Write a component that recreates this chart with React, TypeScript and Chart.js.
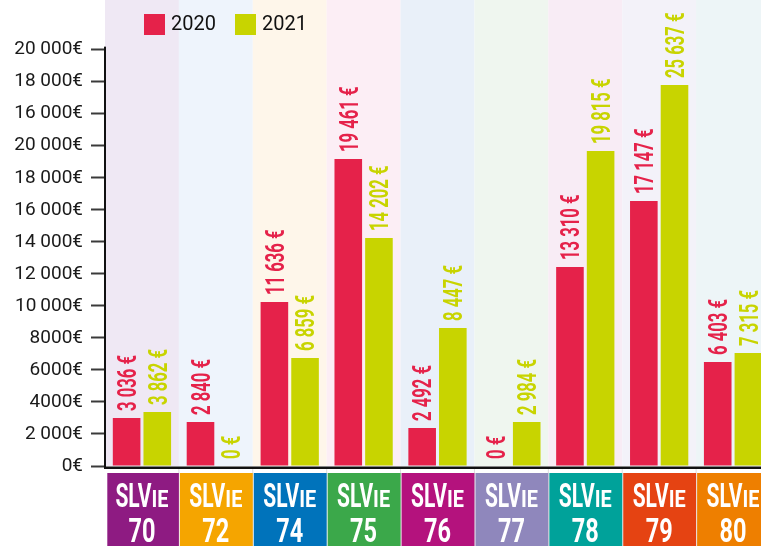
import React, { useEffect, useRef } from 'react';
import { Chart, registerables } from 'chart.js';

Chart.register(...registerables);

const categories = ['70', '72', '74', '75', '76', '77', '78', '79', '80'];
const values2020 = [2998, 2748, 10242, 19172, 2373, 0, 12428, 16549, 6495];
const values2021 = [3372, 0, 6745, 14239, 8618, 2748, 19672, 23793, 7057];
const labels2020 = ['3 036 €', '2 840 €', '11 636 €', '19 461 €', '2 492 €', '0 €', '13 310 €', '17 147 €', '6 403 €'];
const labels2021 = ['3 862 €', '0 €', '6 859 €', '14 202 €', '8 447 €', '2 984 €', '19 815 €', '25 637 €', '7 315 €'];
const yTickValues = [0, 2000, 4000, 6000, 8000, 10000, 12000, 14000, 16000, 18000, 20000, 22000, 24000, 26000];
const yTickLabels = ['0€', '2 000€', '4000€', '6000€', '8000€', '10\u2009000€', '12 000€', '14 000€', '16 000€', '18 000€', '20 000€', '16 000€', '18 000€', '20 000€'];
const seriesNames = ['2020', '2021'];
const seriesColors = ['#E5224A', '#C8D400'];
const bandColors = ['#EFE8F4', '#EEF4FC', '#FEF6EA', '#FCEEF5', '#E9F0F9', '#EFF6EF', '#F8ECF5', '#F3F2F9', '#EDF5F7'];
const boxColors = ['#8E1B82', '#F5A500', '#0073BB', '#3BA84A', '#B4127D', '#8F87BC', '#00A29A', '#E54312', '#EE7F00'];

const FONT = 'Roboto, "Noto Sans", sans-serif';
const TOP_TICK = yTickValues[yTickValues.length - 1];

const customPlugin = {
  id: 'customDecor',
  beforeDatasetsDraw(chart: any) {
    const { ctx, chartArea } = chart;
    const xs = chart.scales.x;
    const n = categories.length;
    const w = (chartArea.right - chartArea.left) / n;
    ctx.save();
    for (let i = 0; i < n; i++) {
      const cx = xs.getPixelForValue(i);
      ctx.fillStyle = bandColors[i];
      ctx.fillRect(cx - w / 2, 0, w, chartArea.bottom);
    }
    ctx.restore();
  },
  afterDatasetsDraw(chart: any) {
    const { ctx } = chart;
    const labelSets = [labels2020, labels2021];
    ctx.save();
    const size = 26;
    ctx.font = `bold ${size}px ${FONT}`;
    for (let d = 0; d < chart.data.datasets.length; d++) {
      const meta = chart.getDatasetMeta(d);
      meta.data.forEach((el: any, i: number) => {
        const text = labelSets[d][i];
        ctx.save();
        ctx.translate(el.x, el.y - 7);
        ctx.rotate(-Math.PI / 2);
        ctx.scale(0.64, 1);
        ctx.fillStyle = seriesColors[d];
        ctx.textAlign = 'left';
        ctx.textBaseline = 'alphabetic';
        ctx.fillText(text, 0, size * 0.711 / 2);
        ctx.restore();
      });
    }
    ctx.restore();
  },
  afterDraw(chart: any) {
    const { ctx, chartArea } = chart;
    const xs = chart.scales.x;
    const ys = chart.scales.y;
    const n = categories.length;
    const w = (chartArea.right - chartArea.left) / n;
    ctx.save();
    ctx.fillStyle = '#111';
    const axisTop = ys.getPixelForValue(TOP_TICK) - 3;
    ctx.fillRect(chartArea.left - 1, axisTop, 2, chartArea.bottom - axisTop + 2);
    ctx.fillRect(chartArea.left - 1, chartArea.bottom + 0.5, chartArea.right - chartArea.left + 10, 2.5);
    ctx.fillStyle = '#DDDDDD';
    for (let i = 1; i < n; i++) {
      const bx = xs.getPixelForValue(i) - w / 2;
      ctx.fillRect(bx - 0.5, chartArea.bottom + 3, 1, 100);
    }
    for (let i = 0; i < n; i++) {
      const cx = xs.getPixelForValue(i);
      const left = cx - w / 2;
      ctx.fillStyle = boxColors[i];
      const bl = i === 0 ? left + 2.3 : left + 1;
      ctx.fillRect(bl, 473, left + w - bl, 80);
      ctx.fillStyle = '#FFFFFF';
      ctx.textBaseline = 'alphabetic';
      ctx.textAlign = 'left';
      ctx.font = `bold 33px ${FONT}`;
      const m1 = ctx.measureText('SLV').width;
      const s1 = 36 / m1;
      ctx.font = `bold 24px ${FONT}`;
      const m2 = ctx.measureText('IE').width;
      const s2 = 17 / m2;
      const total = 36 + 17;
      const start = cx - total / 2;
      ctx.save();
      ctx.translate(start, 506.5);
      ctx.scale(s1, 1);
      ctx.font = `bold 33px ${FONT}`;
      ctx.fillText('SLV', 0, 0);
      ctx.restore();
      ctx.save();
      ctx.translate(start + 36, 506.5);
      ctx.scale(s2, 1);
      ctx.font = `bold 24px ${FONT}`;
      ctx.fillText('IE', 0, 0);
      ctx.restore();
      ctx.font = `bold 33px ${FONT}`;
      const m3 = ctx.measureText(categories[i]).width;
      ctx.save();
      ctx.translate(cx, 541.5);
      ctx.scale(27 / m3, 1);
      ctx.textAlign = 'center';
      ctx.fillText(categories[i], 0, 0);
      ctx.restore();
    }
    const legendX = [144, 235];
    ctx.font = `20px ${FONT}`;
    ctx.textBaseline = 'middle';
    ctx.textAlign = 'left';
    for (let d = 0; d < 2; d++) {
      ctx.fillStyle = seriesColors[d];
      ctx.fillRect(legendX[d], 14, 21, 21);
      ctx.fillStyle = '#111';
      ctx.fillText(seriesNames[d], legendX[d] + 27, 25);
    }
    ctx.restore();
  },
};

export default function App() {
  const canvasRef = useRef<HTMLCanvasElement | null>(null);

  useEffect(() => {
    if (!canvasRef.current) return;
    const chart = new Chart(canvasRef.current, {
      type: 'bar',
      data: {
        labels: categories,
        datasets: [
          {
            label: seriesNames[0],
            data: values2020,
            backgroundColor: seriesColors[0],
            categoryPercentage: 0.83,
            barPercentage: 0.9,
          },
          {
            label: seriesNames[1],
            data: values2021,
            backgroundColor: seriesColors[1],
            categoryPercentage: 0.83,
            barPercentage: 0.9,
          },
        ],
      },
      options: {
        responsive: false,
        animation: false,
        devicePixelRatio: 1,
        layout: { padding: 0 },
        plugins: {
          legend: { display: false },
          tooltip: { enabled: false },
          title: { display: false },
        },
        scales: {
          x: {
            type: 'category',
            offset: true,
            grid: { display: false },
            border: { display: false },
            ticks: { display: false },
            afterFit: (scale: any) => {
              scale.height = 80;
              scale.paddingLeft = 0;
              scale.paddingRight = 0;
            },
          },
          y: {
            type: 'linear',
            min: 0,
            max: 29100,
            border: { display: false },
            grid: {
              display: true,
              drawOnChartArea: false,
              drawTicks: true,
              tickLength: 14,
              tickWidth: 2,
              tickColor: '#3a3a3a',
              color: 'rgba(0,0,0,0)',
            },
            ticks: {
              autoSkip: false,
              padding: 8,
              color: '#1a1a1a',
              font: { family: FONT, size: 19 },
              callback: (value: any) => {
                const idx = yTickValues.indexOf(Number(value));
                return idx >= 0 ? yTickLabels[idx] : '';
              },
            },
            afterBuildTicks: (scale: any) => {
              scale.ticks = yTickValues.map((v) => ({ value: v }));
            },
            afterFit: (scale: any) => {
              scale.width = 105;
              scale.paddingTop = 0;
              scale.paddingBottom = 0;
            },
          },
        },
      },
      plugins: [customPlugin],
    } as any);
    return () => chart.destroy();
  }, []);

  return (
    <div style={{ position: 'fixed', left: 0, top: 0, width: 761, height: 546, overflow: 'hidden', background: '#fff' }}>
      <canvas ref={canvasRef} width={770} height={546} style={{ display: 'block', width: 770, height: 546 }} />
    </div>
  );
}
